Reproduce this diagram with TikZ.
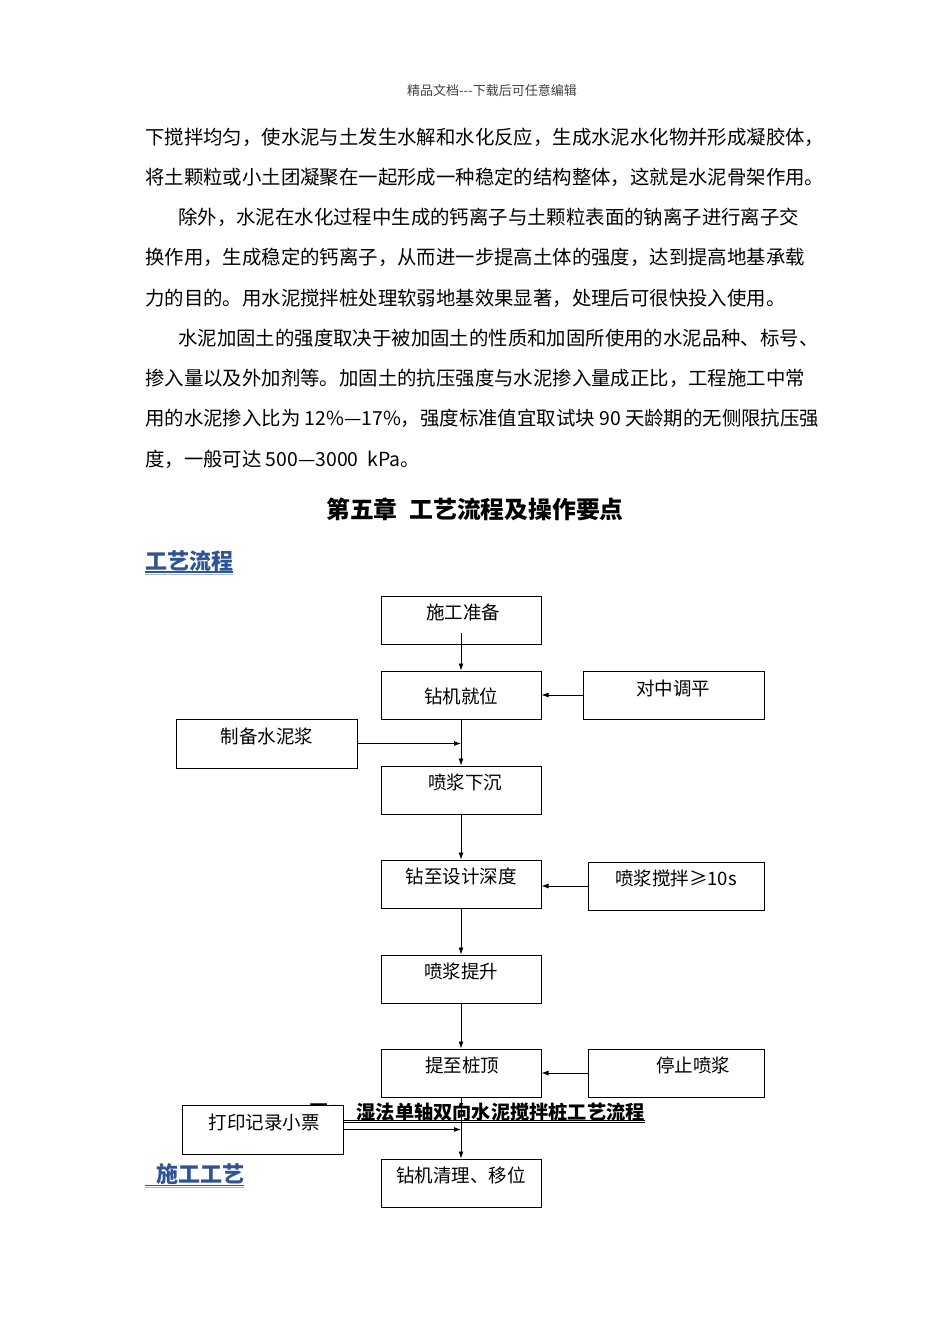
\documentclass[tikz,border=0pt]{standalone}
\usepackage{fontspec}
\setmainfont{Noto Sans CJK SC}
\usetikzlibrary{positioning}
\usetikzlibrary{arrows.meta}
\definecolor{headblue}{RGB}{47,84,150}
\definecolor{lineblue}{RGB}{165,182,208}
\tikzset{
    stepbox/.style = {rectangle, draw=black, line width=1pt, fill=white, minimum width=160pt, minimum height=48pt, inner sep=0pt},
    sidebox/.style = {stepbox, minimum width=181pt},
    boxtext/.style = {inner sep=0pt, font=\fontsize{18.5}{20}\selectfont},
    bodyline/.style = {anchor=west, inner sep=0pt, font=\fontsize{19.4}{22}\selectfont},
    headline/.style = {anchor=west, inner sep=0pt, text=headblue, font=\fontsize{22}{24}\selectfont\bfseries},
    flow/.style = {-{Latex[length=7pt,width=5pt]}, line width=0.8pt},
    ulmain/.style = {headblue, line width=1.3pt},
    ullight/.style = {lineblue, line width=0.8pt}
}
\begin{document}
\begin{tikzpicture}[x=1pt,y=-1pt]
\useasboundingbox (0,0) rectangle (950,1344);
%
\node[inner sep=0pt, text=black!75, font=\fontsize{13}{15}\selectfont] at (492,91) (hdr) {精品文档{-}{-}{-}下载后可任意编辑};
%
\node[bodyline] at (145,137) (l1) {下搅拌均匀，使水泥与土发生水解和水化反应，生成水泥水化物并形成凝胶体，};
\node[bodyline] at (145,177.25) (l2) {将土颗粒或小土团凝聚在一起形成一种稳定的结构整体，这就是水泥骨架作用。};
\node[bodyline] at (178,217.5) (l3) {除外，水泥在水化过程中生成的钙离子与土颗粒表面的钠离子进行离子交};
\node[bodyline] at (145,257.75) (l4) {换作用，生成稳定的钙离子，从而进一步提高土体的强度，达到提高地基承载};
\node[bodyline] at (145,298) (l5) {力的目的。用水泥搅拌桩处理软弱地基效果显著，处理后可很快投入使用。};
\node[bodyline] at (178,338.25) (l6) {水泥加固土的强度取决于被加固土的性质和加固所使用的水泥品种、标号、};
\node[bodyline] at (145,378.5) (l7) {掺入量以及外加剂等。加固土的抗压强度与水泥掺入量成正比，工程施工中常};
\node[bodyline] at (145,418.75) (l8) {用的水泥掺入比为 12\%—17\%，强度标准值宜取试块 90 天龄期的无侧限抗压强};
\node[bodyline] at (145,459) (l9) {度，一般可达 500—3000\ \ kPa。};
%
\node[anchor=west, inner sep=0pt, font=\fontsize{23.8}{25}\selectfont\bfseries] at (326,509) (title) {第五章\hspace{12pt}工艺流程及操作要点};
%
\node[headline] at (145,561) (h1) {工艺流程};
\coordinate (u1a) at (0,572);
\coordinate (u1b) at (0,574.5);
\draw[ulmain] (u1a -| h1.west) -- (u1a -| h1.east);
\draw[ullight] (u1b -| h1.west) -- (u1b -| h1.east);
%
\node[headline] at (156,1174) (h2) {施工工艺};
\coordinate (u2a) at (145,1185.5);
\coordinate (u2b) at (145,1187.5);
\draw[ulmain] (u2a) -- (u2a -| h2.east);
\draw[ullight] (u2b) -- (u2b -| h2.east);
%
\node[anchor=east, inner sep=0pt, font=\fontsize{19.2}{21}\selectfont\bfseries] at (645,1112) (cap) {图3\hspace{16pt}湿法单轴双向水泥搅拌桩工艺流程};
\coordinate (c1) at (0,1120);
\coordinate (c2) at (0,1122.5);
\draw[line width=0.7pt] (c1 -| cap.west) -- (c1 -| cap.east);
\draw[line width=0.7pt] (c2 -| cap.west) -- (c2 -| cap.east);
%
\node[stepbox] at (461,620) (zb) {};
\node[stepbox] at (461,695) (jw) {};
\node[sidebox] at (673.5,695) (dz) {};
\node[sidebox, minimum height=49pt] at (266.5,743.5) (zj) {};
\node[stepbox] at (461,790) (xc) {};
\node[stepbox] at (461,884) (sd) {};
\node[stepbox, minimum width=176pt] at (676,886) (jb) {};
\node[stepbox] at (461,979) (ts) {};
\node[stepbox] at (461,1073) (zd) {};
\node[stepbox, minimum width=176pt] at (676,1073) (tz) {};
\node[stepbox, minimum width=161pt, minimum height=49pt] at (262.5,1129.5) (dy) {};
\node[stepbox] at (461,1183) (qy) {};
%
\node[boxtext] at (463,612) (zbt) {施工准备};
\node[boxtext] at (461,696) (jwt) {钻机就位};
\node[boxtext] at (673,688) (dzt) {对中调平};
\node[boxtext] at (267,736) (zjt) {制备水泥浆};
\node[boxtext] at (465,782) (xct) {喷浆下沉};
\node[boxtext] at (461,876) (sdt) {钻至设计深度};
\node[boxtext] at (676,878) (jbt) {喷浆搅拌≥10s};
\node[boxtext] at (461,971) (tst) {喷浆提升};
\node[boxtext] at (462,1065) (zdt) {提至桩顶};
\node[boxtext] at (693,1065) (tzt) {停止喷浆};
\node[boxtext] at (264,1122) (dyt) {打印记录小票};
\node[boxtext] at (461,1175) (qyt) {钻机清理、移位};
%
\draw[flow, shorten <=13pt] (zb.center) -- (jw.north);
\draw[flow] (dz.west) -- (jw.east);
\draw[flow] (jw.south) -- (xc.north);
\draw[flow] (zj.east) -- (zj.east -| jw.south);
\draw[flow] (xc.south) -- (sd.north);
\draw[flow] (jb.west) -- (jb.west -| sd.east);
\draw[flow] (sd.south) -- (ts.north);
\draw[flow] (ts.south) -- (zd.north);
\draw[flow] (tz.west) -- (zd.east);
\draw[flow] (zd.south) -- (qy.north);
\draw[flow] (dy.east) -- (dy.east -| zd.south);
\end{tikzpicture}
\end{document}
